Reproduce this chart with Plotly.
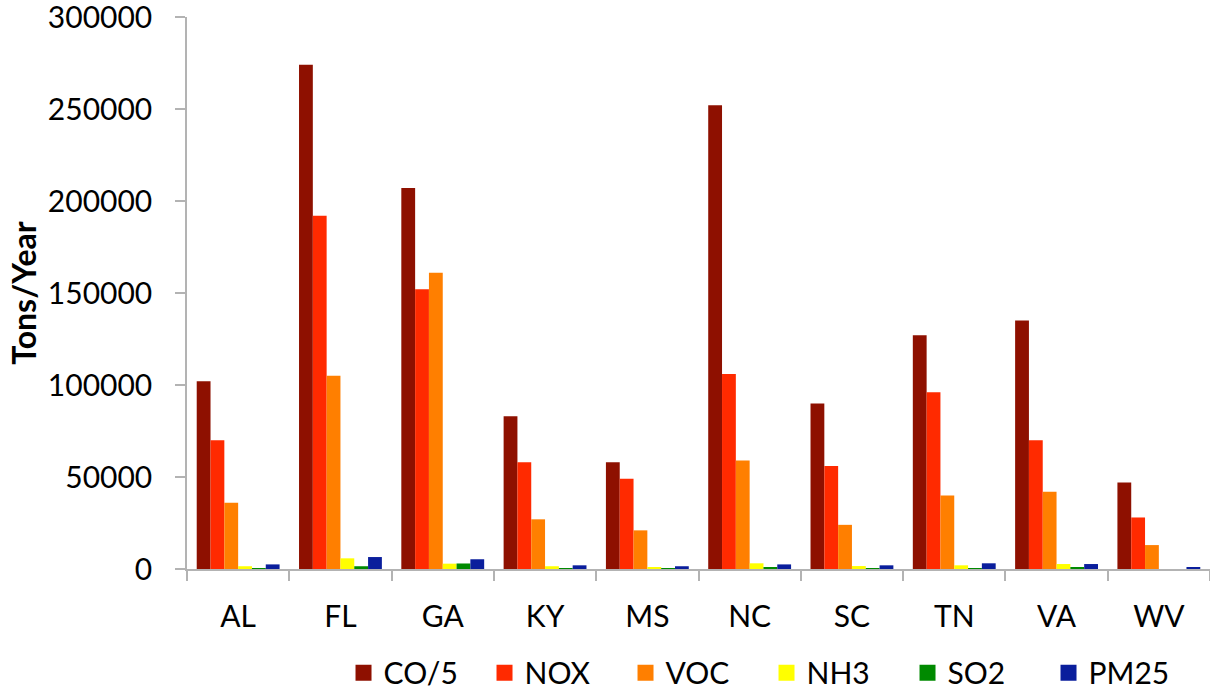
import plotly.graph_objects as go

states = ["AL", "FL", "GA", "KY", "MS", "NC", "SC", "TN", "VA", "WV"]
co5 = [102000, 274000, 207000, 83000, 58000, 252000, 90000, 127000, 135000, 47000]
nox = [70000, 192000, 152000, 58000, 49000, 106000, 56000, 96000, 70000, 28000]
voc = [36000, 105000, 161000, 27000, 21000, 59000, 24000, 40000, 42000, 13000]
nh3 = [1500, 5800, 2900, 1500, 700, 3100, 1600, 2000, 2700, 0]
so2 = [200, 1500, 3000, 200, 100, 900, 100, 100, 900, 0]
pm25 = [2500, 6500, 5300, 2000, 1500, 2500, 2000, 3100, 2700, 900]
y_ticks = [0, 50000, 100000, 150000, 200000, 250000, 300000]

series = [
    ("CO/5", co5, "#8E1000"),
    ("NOX", nox, "#FF2A00"),
    ("VOC", voc, "#FF7F00"),
    ("NH3", nh3, "#FFFF00"),
    ("SO2", so2, "#008A00"),
    ("PM25", pm25, "#0A1E9C"),
]

FONT = "Lato"
axis_col = "#B3B3B3"

fig = go.Figure()
for name, vals, col in series:
    fig.add_trace(go.Bar(x=states, y=vals, name=name, legendgroup=name, showlegend=False,
                         marker=dict(color=col, line=dict(width=0))))
# legend entries with larger square swatches
for name, vals, col in series:
    fig.add_trace(go.Scatter(x=[None], y=[None], mode="markers", name=name, legendgroup=name,
                             marker=dict(symbol="square", size=18, color=col), hoverinfo="skip"))

fig.update_layout(
    width=1210, height=691,
    margin=dict(l=187, r=0, t=17, b=122, autoexpand=False),
    paper_bgcolor="white", plot_bgcolor="white",
    barmode="group", bargap=0.19, bargroupgap=0,
    font=dict(family=FONT, size=30, color="black"),
    showlegend=True,
    legend=dict(orientation="h", x=0.153, xanchor="left", y=-0.188, yanchor="middle",
                font=dict(family=FONT, size=30, color="black"),
                entrywidth=96, entrywidthmode="pixels",
                bgcolor="rgba(0,0,0,0)", traceorder="normal"),
)
fig.update_xaxes(
    type="category", showline=True, linecolor=axis_col, linewidth=1.5,
    ticks="outside", tickson="boundaries", ticklen=10, tickcolor=axis_col, tickwidth=1.5,
    showgrid=False, ticklabelstandoff=20,
    tickfont=dict(family=FONT, size=30, color="black"),
)
fig.update_yaxes(
    range=[0, 300000], tickmode="array", tickvals=y_ticks,
    ticktext=[str(v) for v in y_ticks], ticklabeloverflow="allow",
    showline=True, linecolor=axis_col, linewidth=1.5,
    ticks="outside", ticklen=10, tickcolor=axis_col, tickwidth=1.5,
    showgrid=False, zeroline=False, ticklabelstandoff=17,
    tickfont=dict(family=FONT, size=30, color="black"),
    title=dict(text="<b>Tons/Year</b>", font=dict(family=FONT, size=32, color="black"), standoff=2),
)

fig.write_html(
    "out.html",
    config={"displayModeBar": False},
    post_script="document.documentElement.style.margin='0';document.body.style.margin='0';document.body.style.overflow='hidden';",
)
